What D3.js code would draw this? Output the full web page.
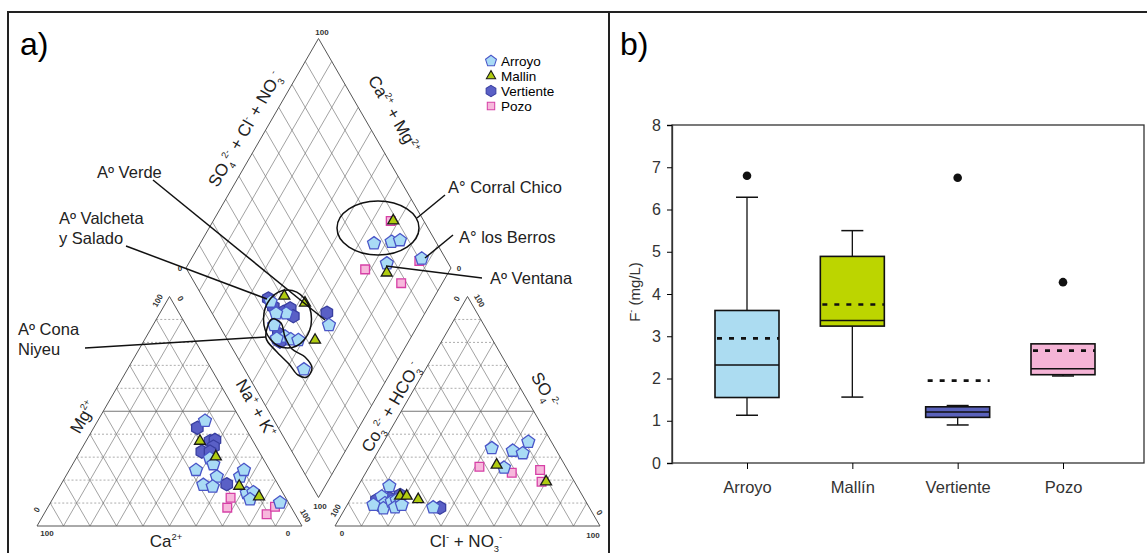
<!DOCTYPE html>
<html>
<head>
<meta charset="utf-8">
<script src="https://cdn.jsdelivr.net/npm/d3@7"></script>
<style>
  body { margin: 0; background: #fff; }
  svg { display: block; font-family: "Liberation Sans", Arial, sans-serif; }
</style>
</head>
<body>
<div id="fig"></div>
<script>
// ---- panel b data (F- mg/L) ----
var categories = ["Arroyo", "Mallín", "Vertiente", "Pozo"];
var whiskerLow = [1.13, 1.56, 0.90, 2.06];
var q1 = [1.55, 3.24, 1.08, 2.09];
var median = [2.32, 3.37, 1.21, 2.23];
var q3 = [3.61, 4.89, 1.33, 2.82];
var whiskerHigh = [6.29, 5.50, 1.36, 2.82];
var means = [2.95, 3.75, 1.95, 2.66];
var outliers = [6.80, null, 6.75, 4.28];
var yTicks = [0, 1, 2, 3, 4, 5, 6, 7, 8];

// ---- panel a data (Piper) ----
// cations: [group, Mg %, Na+K %]
var cationPts = [
  ["Pozo", 12.3, 66.9], ["Pozo", 8.0, 67.8], ["Pozo", 5.1, 84.1], ["Pozo", 8.4, 85.6],
  ["Vertiente", 42.8, 39.1], ["Vertiente", 37.0, 46.8], ["Vertiente", 37.5, 48.4], ["Vertiente", 34.6, 49.3],
  ["Vertiente", 32.4, 46.0], ["Vertiente", 32.4, 49.1], ["Vertiente", 18.2, 62.5],
  ["Arroyo", 45.8, 40.5], ["Arroyo", 29.5, 50.5], ["Arroyo", 26.9, 53.1], ["Arroyo", 24.4, 47.8],
  ["Arroyo", 21.5, 57.1], ["Arroyo", 17.9, 53.8], ["Arroyo", 17.2, 57.7], ["Arroyo", 21.5, 65.9],
  ["Arroyo", 24.4, 65.9], ["Arroyo", 14.3, 72.0], ["Arroyo", 14.7, 74.3], ["Arroyo", 11.6, 74.6],
  ["Arroyo", 10.2, 86.6],
  ["Mallín", 37.0, 43.0], ["Mallín", 30.2, 52.4], ["Mallín", 17.4, 67.6], ["Mallín", 12.8, 77.4]
];
// anions: [group, SO4 %, Cl+NO3 %]
var anionPts = [
  ["Pozo", 25.8, 41.6], ["Pozo", 23.2, 55.1], ["Pozo", 24.4, 65.2], ["Pozo", 19.3, 68.3],
  ["Vertiente", 11.3, 10.0], ["Vertiente", 9.2, 11.8], ["Vertiente", 13.5, 17.8], ["Vertiente", 12.1, 14.5],
  ["Vertiente", 8.0, 35.6],
  ["Arroyo", 33.9, 42.2], ["Arroyo", 32.8, 50.7], ["Arroyo", 36.7, 54.6], ["Arroyo", 31.7, 55.0],
  ["Arroyo", 25.4, 51.1], ["Arroyo", 17.4, 11.8], ["Arroyo", 12.8, 11.2], ["Arroyo", 9.9, 13.9],
  ["Arroyo", 7.7, 14.4], ["Arroyo", 10.6, 16.1], ["Arroyo", 11.3, 17.6], ["Arroyo", 8.1, 18.6],
  ["Arroyo", 9.2, 20.6], ["Arroyo", 9.2, 9.9], ["Arroyo", 8.1, 33.0],
  ["Mallín", 26.6, 47.7], ["Mallín", 19.3, 70.0], ["Mallín", 13.1, 18.0], ["Mallín", 13.1, 20.5],
  ["Mallín", 11.6, 25.6]
];
// diamond: [group, SO4+Cl %, Na+K %]
var diamondPts = [
  ["Pozo", 87.5, 67.0], ["Pozo", 89.6, 86.5], ["Pozo", 67.3, 67.9], ["Pozo", 77.9, 84.5],
  ["Vertiente", 24.4, 37.7], ["Vertiente", 27.2, 46.3], ["Vertiente", 30.5, 48.1], ["Vertiente", 30.0, 51.0],
  ["Vertiente", 24.5, 41.4], ["Vertiente", 43.4, 62.9], ["Vertiente", 20.6, 49.1], ["Vertiente", 19.4, 51.5],
  ["Arroyo", 24.6, 39.3], ["Arroyo", 27.9, 47.7], ["Arroyo", 24.1, 43.9], ["Arroyo", 41.5, 66.4],
  ["Arroyo", 20.8, 45.7], ["Arroyo", 22.4, 52.3], ["Arroyo", 24.0, 55.1], ["Arroyo", 26.7, 58.1],
  ["Arroyo", 18.9, 49.6], ["Arroyo", 22.4, 66.6], ["Arroyo", 76.3, 65.6], ["Arroyo", 83.3, 71.9],
  ["Arroyo", 86.8, 74.7], ["Arroyo", 76.8, 74.8], ["Arroyo", 91.0, 86.9],
  ["Mallín", 31.0, 43.2], ["Mallín", 37.3, 52.5], ["Mallín", 33.0, 64.4], ["Mallín", 88.5, 67.9],
  ["Mallín", 74.7, 76.8]
];
var groups = ["Arroyo", "Mallín", "Vertiente", "Pozo"];
var legendNames = ["Arroyo", "Mallin", "Vertiente", "Pozo"];
var gridSteps = [10, 20, 30, 40, 50, 60, 70, 80, 90];

var W = 1147, H = 553;
var svg = d3.select("#fig").append("svg").attr("width", W).attr("height", H);

// frame
svg.append("path").attr("d", "M8,553 L8,12 L1147,12").attr("fill", "none").attr("stroke", "#222").attr("stroke-width", 2);
svg.append("line").attr("x1", 609).attr("x2", 609).attr("y1", 12).attr("y2", 553).attr("stroke", "#222").attr("stroke-width", 2);

svg.append("text").attr("x", 20).attr("y", 55).style("font-size", "32px").text("a)");
svg.append("text").attr("x", 620).attr("y", 55).style("font-size", "32px").text("b)");

// ---------------- panel b: box plot ----------------
var plotL = 672, plotR = 1144, plotT = 125, plotB = 463;
var y = d3.scaleLinear().domain([0, 8]).range([plotB, plotT]);
var x = d3.scalePoint().domain(categories).range([747, 1063]);
var boxColors = { "Arroyo": "#acdcf1", "Mallín": "#bcd500", "Vertiente": "#5a62bb", "Pozo": "#f5b4d6" };
var boxW = 64, capW = 22;

var pb = svg.append("g");
pb.append("rect").attr("x", plotL).attr("y", plotT).attr("width", plotR - plotL).attr("height", plotB - plotT)
  .attr("fill", "none").attr("stroke", "#333").attr("stroke-width", 1.3);

var yAxis = pb.append("g").attr("transform", "translate(" + plotL + ",0)")
  .call(d3.axisLeft(y).tickValues(yTicks).tickSize(5).tickPadding(6).tickFormat(d3.format("d")));
yAxis.select(".domain").attr("stroke", "#333").attr("stroke-width", 1.3);
yAxis.selectAll("text").style("font-size", "16px").style("font-family", "Liberation Sans, Arial").attr("fill", "#333");
var xAxis = pb.append("g").attr("transform", "translate(0," + plotB + ")")
  .call(d3.axisBottom(x).tickSize(6).tickPadding(12));
xAxis.select(".domain").remove();
xAxis.selectAll("text").style("font-size", "16.5px").style("font-family", "Liberation Sans, Arial").attr("fill", "#333");

categories.forEach(function(c, i) {
  var cx = x(c);
  var g = pb.append("g");
  // whiskers
  g.append("line").attr("x1", cx).attr("x2", cx).attr("y1", y(whiskerHigh[i])).attr("y2", y(q3[i])).attr("stroke", "#111").attr("stroke-width", 1.3);
  g.append("line").attr("x1", cx).attr("x2", cx).attr("y1", y(q1[i])).attr("y2", y(whiskerLow[i])).attr("stroke", "#111").attr("stroke-width", 1.3);
  g.append("line").attr("x1", cx - capW / 2).attr("x2", cx + capW / 2).attr("y1", y(whiskerHigh[i])).attr("y2", y(whiskerHigh[i])).attr("stroke", "#111").attr("stroke-width", 1.5);
  g.append("line").attr("x1", cx - capW / 2).attr("x2", cx + capW / 2).attr("y1", y(whiskerLow[i])).attr("y2", y(whiskerLow[i])).attr("stroke", "#111").attr("stroke-width", 1.5);
  g.append("rect").attr("x", cx - boxW / 2).attr("y", y(q3[i])).attr("width", boxW).attr("height", y(q1[i]) - y(q3[i]))
    .attr("fill", boxColors[c]).attr("stroke", "#111").attr("stroke-width", 1.6);
  g.append("line").attr("x1", cx - boxW / 2).attr("x2", cx + boxW / 2).attr("y1", y(median[i])).attr("y2", y(median[i])).attr("stroke", "#111").attr("stroke-width", 1.5);
  g.append("line").attr("x1", cx - boxW / 2).attr("x2", cx + boxW / 2).attr("y1", y(means[i])).attr("y2", y(means[i]))
    .attr("stroke", "#111").attr("stroke-width", 2.6).attr("stroke-dasharray", "5,7").attr("stroke-dashoffset", -2);
  if (outliers[i] != null) {
    g.append("circle").attr("cx", cx).attr("cy", y(outliers[i])).attr("r", 4.3).attr("fill", "#111");
  }
});

pb.append("text").attr("transform", "translate(640,292) rotate(-90)").attr("text-anchor", "middle")
  .style("font-size", "15px").attr("fill", "#333")
  .call(function(t) {
    t.append("tspan").text("F");
    t.append("tspan").attr("dy", -6).style("font-size", "9px").text("-");
    t.append("tspan").attr("dy", 6).text(" (mg/L)");
  });

// ---------------- panel a: Piper ----------------
var side = 265, hgt = side * Math.sqrt(3) / 2, base = 526;
var catX0 = 37, anX0 = 335;
var dLeft = [186, 268];
var sx = d3.scaleLinear().domain([0, 100]).range([0, side]);
var sh = d3.scaleLinear().domain([0, 100]).range([0, hgt]);
var sdx = d3.scaleLinear().domain([0, 100]).range([0, side / 2]);

function catPos(mg, nak) { return [catX0 + sx(nak) + sx(mg) / 2, base - sh(mg)]; }
function anPos(so4, cl) { return [anX0 + sx(cl) + sx(so4) / 2, base - sh(so4)]; }
function diaPos(a, b) { return [dLeft[0] + sdx(a + b), dLeft[1] + sh(b - a)]; }

var pa = svg.append("g");
var gridG = pa.append("g").attr("fill", "none");
function seg(p, q, dash, col, w) {
  gridG.append("line").attr("x1", p[0]).attr("y1", p[1]).attr("x2", q[0]).attr("y2", q[1])
    .attr("stroke", col || "#7a7a7a").attr("stroke-width", w || 0.7).attr("stroke-dasharray", dash || null);
}
[catPos, anPos].forEach(function(pos) {
  gridSteps.forEach(function(k) {
    seg(pos(k, 0), pos(k, 100 - k), k === 50 ? null : "2,2", k === 50 ? "#666" : "#8a8a8a", k === 50 ? 0.9 : 0.7);
    seg(pos(0, k), pos(100 - k, k));
    seg(pos(0, 100 - k), pos(100 - k, 0));
  });
  seg(pos(0, 0), pos(0, 100), null, "#555", 1);
  seg(pos(0, 100), pos(100, 0), null, "#555", 1);
  seg(pos(100, 0), pos(0, 0), null, "#555", 1);
});
gridSteps.forEach(function(k) {
  seg(diaPos(k, 0), diaPos(k, 100));
  seg(diaPos(0, k), diaPos(100, k));
});
[[0, 0, 100, 0], [100, 0, 100, 100], [100, 100, 0, 100], [0, 100, 0, 0]].forEach(function(e) {
  seg(diaPos(e[0], e[1]), diaPos(e[2], e[3]), null, "#555", 1);
});

// markers
function poly(n, r) {
  var pts = d3.range(n).map(function(i) {
    var a = i * 2 * Math.PI / n;
    return [r * Math.sin(a), -r * Math.cos(a)];
  });
  return "M" + pts.join("L") + "Z";
}
var markerPath = {
  "Arroyo": poly(5, 6.8),
  "Mallín": d3.symbol(d3.symbolTriangle, 52)(),
  "Vertiente": poly(6, 6.6),
  "Pozo": d3.symbol(d3.symbolSquare, 76)()
};
var markerFill = { "Arroyo": "#a9dbf5", "Mallín": "#b0cc10", "Vertiente": "#5a60c6", "Pozo": "#f7b8dc" };
var markerStroke = { "Arroyo": "#4a56c8", "Mallín": "#1a1a1a", "Vertiente": "#383ea0", "Pozo": "#d640a6" };

function drawPts(data, pos) {
  pa.append("g").selectAll("path").data(data).enter().append("path")
    .attr("d", function(d) { return markerPath[d[0]]; })
    .attr("transform", function(d) { var p = pos(d[1], d[2]); return "translate(" + p[0] + "," + p[1] + ")"; })
    .attr("fill", function(d) { return markerFill[d[0]]; })
    .attr("stroke", function(d) { return markerStroke[d[0]]; })
    .attr("stroke-width", 1.3);
}
drawPts(cationPts, catPos);
drawPts(anionPts, anPos);
drawPts(diamondPts, diaPos);

// legend
groups.forEach(function(gname, i) {
  var ly = 61 + i * 15;
  pa.append("path").attr("d", markerPath[gname]).attr("transform", "translate(491," + ly + ") scale(0.85)")
    .attr("fill", markerFill[gname]).attr("stroke", markerStroke[gname]).attr("stroke-width", 1.2);
  pa.append("text").attr("x", 501).attr("y", ly + 5).style("font-size", "13.5px").text(legendNames[i]);
});

// rich text helper (super/subscripts)
function rich(px, py, rot, size, parts) {
  var t = pa.append("text").attr("transform", "translate(" + px + "," + py + ") rotate(" + rot + ")")
    .attr("text-anchor", "middle").style("font-size", size + "px").attr("fill", "#222");
  var shift = 0;
  parts.forEach(function(p) {
    var target = p[1] === "sup" ? -size * 0.42 : (p[1] === "sub" ? size * 0.28 : 0);
    t.append("tspan").attr("dy", target - shift).style("font-size", (p[1] ? size * 0.55 : size) + "px").text(p[0]);
    shift = target;
  });
}
rich(166, 547, 0, 17, [["Ca"], ["2+", "sup"]]);
rich(466, 547, 0, 17, [["Cl"], ["-", "sup"], [" + NO"], ["3", "sub"], ["-", "sup"]]);
rich(88, 420, -60, 17, [["Mg"], ["2+", "sup"]]);
rich(540, 393, 60, 17, [["SO"], ["4", "sub"], ["2-", "sup"]]);
rich(251, 411, 60, 17, [["Na"], ["+", "sup"], [" + K"], ["+", "sup"]]);
rich(396, 410, -60, 17, [["Co"], ["3", "sub"], ["2-", "sup"], [" + HCO"], ["3", "sub"], ["-", "sup"]]);
rich(250, 132, -60, 17, [["SO"], ["4", "sub"], ["2-", "sup"], [" + Cl"], ["-", "sup"], [" + NO"], ["3", "sub"], ["-", "sup"]]);
rich(389, 117, 60, 17, [["Ca"], ["2+", "sup"], [" + Mg"], ["2+", "sup"]]);

// corner tick labels
var corner = [
  [47, 536, 0, "100"], [288, 536, 0, "0"], [39, 511, -60, "0"], [303, 517, 60, "100"],
  [160, 302, -60, "100"], [178, 300, 60, "0"],
  [342, 536, 0, "0"], [593, 538, 0, "100"], [338, 512, -60, "100"], [597, 514, 60, "0"],
  [459, 300, -60, "0"], [477, 302, 60, "100"],
  [320, 509, 0, "100"], [322, 35, 0, "100"], [180, 271, 0, "0"], [459, 271, 0, "0"]
];
corner.forEach(function(c) {
  pa.append("text").attr("transform", "translate(" + c[0] + "," + c[1] + ") rotate(" + c[2] + ")")
    .attr("text-anchor", "middle").style("font-size", "8px").style("font-weight", "bold").attr("fill", "#333").text(c[3]);
});

// annotations
var ann = pa.append("g").attr("fill", "none").attr("stroke", "#111").attr("stroke-width", 1.5);
ann.append("ellipse").attr("cx", 378).attr("cy", 228).attr("rx", 41).attr("ry", 27);
ann.append("ellipse").attr("cx", 287.5).attr("cy", 319).attr("rx", 24).attr("ry", 29);
ann.append("path").attr("d", d3.line().curve(d3.curveCatmullRomClosed)([
  [272, 319], [281, 323], [285, 337], [292, 349], [305, 357], [312, 368], [307, 377], [298, 375],
  [289, 364], [276, 351], [266, 338]
]));
var leaders = [
  [[417, 218], [445, 195]],
  [[425, 258], [453, 235]],
  [[386, 266], [482, 278]],
  [[153, 180], [325, 320]],
  [[126, 246], [267, 299]],
  [[85, 348], [266, 337]]
];
leaders.forEach(function(l) {
  ann.append("line").attr("x1", l[0][0]).attr("y1", l[0][1]).attr("x2", l[1][0]).attr("y2", l[1][1]);
});
var labels = [
  [448, 193, "A° Corral Chico"], [459, 243, "A° los Berros"], [490, 284, "Aº Ventana"],
  [97, 178, "Aº Verde"], [59, 224, "Aº Valcheta"], [59, 244, "y Salado"],
  [18, 335, "Aº Cona"], [18, 355, "Niyeu"]
];
labels.forEach(function(l) {
  pa.append("text").attr("x", l[0]).attr("y", l[1]).style("font-size", "16.5px").attr("fill", "#222").text(l[2]);
});
</script>
</body>
</html>
